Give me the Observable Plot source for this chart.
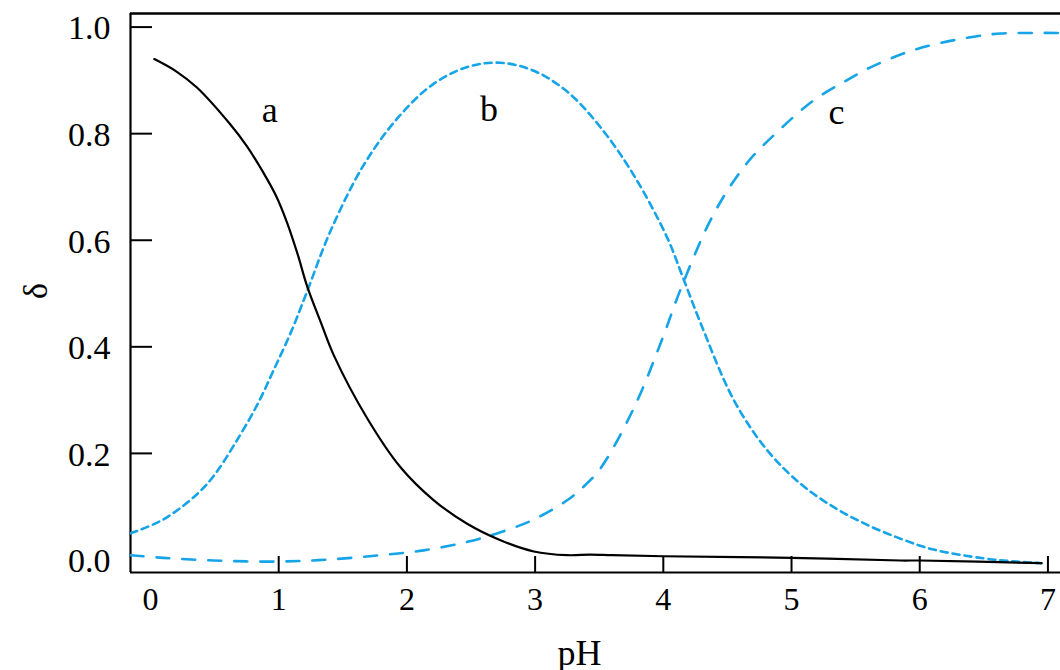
<!DOCTYPE html>
<html><head><meta charset="utf-8">
<script src="https://cdn.jsdelivr.net/npm/d3@7"></script>
<script src="https://cdn.jsdelivr.net/npm/@observablehq/plot@0.6"></script>
<style>
html,body{margin:0;padding:0;background:#fff;overflow:hidden;}
#chart svg{display:block;}
</style></head><body><div id="chart"></div>
<script>
// curve a (solid black)
const aPH    = [0.03, 0.20, 0.36, 0.62, 0.75, 0.88, 0.98, 1.07, 1.15, 1.22, 1.33, 1.43, 1.69, 1.95, 2.21, 2.47, 2.73, 2.99, 3.25, 3.43, 3.60, 4.00, 5.00, 5.85, 6.00, 6.95];
const aDelta = [0.940, 0.917, 0.887, 0.818, 0.777, 0.727, 0.683, 0.630, 0.572, 0.515, 0.445, 0.384, 0.266, 0.174, 0.112, 0.068, 0.037, 0.016, 0.009, 0.010, 0.009, 0.007, 0.004, -0.001, -0.001, -0.006];
// curve b (short dashes)
const bPH    = [-0.156, 0.10, 0.37, 0.50, 0.65, 0.83, 0.96, 1.10, 1.22, 1.40, 1.66, 1.93, 2.20, 2.47, 2.73, 2.99, 3.25, 3.51, 3.77, 4.03, 4.15, 4.29, 4.55, 4.81, 5.07, 5.33, 5.59, 5.85, 6.10, 6.50, 6.76, 6.95];
const bDelta = [0.050, 0.076, 0.125, 0.160, 0.215, 0.290, 0.356, 0.430, 0.503, 0.615, 0.740, 0.830, 0.892, 0.925, 0.933, 0.918, 0.879, 0.812, 0.722, 0.605, 0.532, 0.445, 0.300, 0.206, 0.143, 0.099, 0.066, 0.040, 0.020, 0.003, -0.003, -0.006];
// curve c (long dashes)
const cPH    = [-0.156, 0.10, 0.49, 0.99, 1.40, 1.79, 2.13, 2.47, 2.73, 2.99, 3.25, 3.38, 3.51, 3.77, 4.00, 4.13, 4.39, 4.65, 4.91, 5.17, 5.43, 5.62, 5.98, 6.37, 6.63, 6.89, 7.10];
const cDelta = [0.009, 0.004, -0.001, -0.003, 0.001, 0.009, 0.018, 0.034, 0.052, 0.076, 0.112, 0.138, 0.172, 0.285, 0.420, 0.505, 0.648, 0.744, 0.808, 0.862, 0.900, 0.925, 0.959, 0.980, 0.988, 0.989, 0.989];

const curveLabels = ["a", "b", "c"];
const curveLabelPH = [0.93, 2.64, 5.35];
const curveLabelDelta = [0.822, 0.824, 0.819];

const xTickValues = [0, 1, 2, 3, 4, 5, 6, 7];
const xTickMarks = [1, 2, 3, 4, 5, 6, 7];
const yTickValues = [0, 0.2, 0.4, 0.6, 0.8, 1.0];
const yTickMarks = [0.2, 0.4, 0.6, 0.8, 1.0];
const xDomain = [-0.156, 7.098];
const yDomain = [-0.0235, 1.0255];
const xTitle = "pH";
const yTitle = "δ";

const blue = "#15a4e7";
const rows = (xs, ys) => xs.map((pH, i) => ({pH, delta: ys[i]}));
const labelRows = curveLabels.map((t, i) => ({t, pH: curveLabelPH[i], delta: curveLabelDelta[i]}));

const chart = Plot.plot({
  width: 1060,
  height: 670,
  marginLeft: 130,
  marginRight: 0,
  marginTop: 13,
  marginBottom: 98,
  style: {fontFamily: "'Liberation Serif', 'Times New Roman', serif", fontSize: "34px", color: "#000", background: "#fff"},
  x: {domain: xDomain, label: null},
  y: {domain: yDomain, label: null},
  marks: [
    Plot.axisX({ticks: xTickValues, tickSize: 0, tickPadding: 15, tickFormat: d => String(d), fontSize: 32}),
    Plot.axisX({ticks: xTickMarks, tickSize: -16, tickFormat: () => "", strokeWidth: 2}),
    Plot.axisY({ticks: yTickValues, tickSize: 0, tickPadding: 20, tickFormat: d3.format(".1f"), dy: 1.5, fontSize: 34}),
    Plot.axisY({ticks: yTickMarks, tickSize: -22, tickFormat: () => "", strokeWidth: 2}),
    Plot.ruleX([xDomain[0]], {stroke: "#000", strokeWidth: 2.2}),
    Plot.ruleY([yDomain[0]], {stroke: "#000", strokeWidth: 2.2}),
    Plot.ruleY([yDomain[1]], {stroke: "#000", strokeWidth: 2.4}),
    Plot.line(rows(bPH, bDelta), {x: "pH", y: "delta", stroke: blue, strokeWidth: 2.6, strokeDasharray: "7,5", curve: "catmull-rom", clip: true}),
    Plot.line(rows(cPH, cDelta), {x: "pH", y: "delta", stroke: blue, strokeWidth: 2.6, strokeDasharray: "13,13", curve: "catmull-rom", clip: true}),
    Plot.line(rows(aPH, aDelta), {x: "pH", y: "delta", stroke: "#000", strokeWidth: 2.2, curve: "catmull-rom", clip: true}),
    Plot.text(labelRows, {x: "pH", y: "delta", text: "t", lineAnchor: "bottom", fontSize: 36, fill: "#000"}),
    Plot.text([xTitle], {frameAnchor: "bottom", text: d => d, lineAnchor: "bottom", dy: 92, dx: -16, fontSize: 36, fill: "#000"}),
    Plot.text([yTitle], {frameAnchor: "left", text: d => d, rotate: -90, dx: -94, dy: 6, fontSize: 34, fill: "#000"})
  ]
});
document.getElementById("chart").appendChild(chart);
</script>
</body></html>
